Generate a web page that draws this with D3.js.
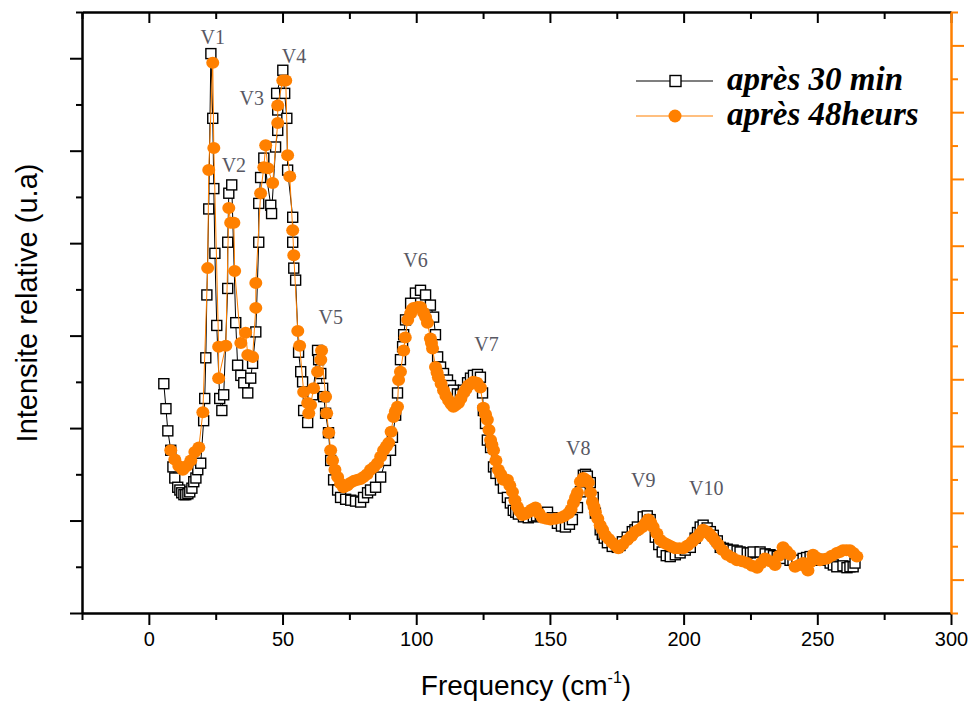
<!DOCTYPE html>
<html>
<head>
<meta charset="utf-8">
<script src="https://cdn.jsdelivr.net/npm/d3@7"></script>
<style>
  body { margin: 0; background: #fff; }
  svg { display: block; }
</style>
</head>
<body>
<div id="chart"></div>
<script>
// après 30 min : frequency (cm-1) and relative intensity
const freq30 = [5.6,6.4,7.1,8.2,9.0,9.7,10.8,11.6,12.3,13.1,
  13.8,14.6,15.3,16.1,16.8,17.6,18.3,19.4,20.5,20.9,
  21.3,21.7,22.4,23.2,23.9,24.3,24.7,25.4,26.5,27.3,
  28.0,29.5,29.5,29.9,31.0,32.5,33.2,34.4,35.5,37.0,
  38.1,38.8,40.0,41.1,41.1,41.8,43.0,45.6,45.9,47.4,
  48.2,48.2,47.8,50.1,50.8,51.6,51.9,53.8,53.8,54.2,
  54.9,56.0,56.8,57.5,57.9,59.4,61.3,63.1,63.5,64.3,
  65.0,65.4,66.1,67.2,68.0,69.1,70.6,71.7,73.6,75.5,
  77.3,79.2,80.3,81.8,82.9,84.8,86.7,88.5,90.4,91.1,
  92.3,93.0,94.1,94.9,95.3,96.0,97.9,99.7,101.6,103.5,
  105.3,106.5,107.2,108.0,109.1,110.2,111.7,112.8,113.9,115.4,
  116.5,117.7,119.2,120.3,121.4,122.9,124.0,124.8,125.1,125.9,
  126.6,127.8,128.9,129.8,131.5,132.6,134.1,135.2,136.3,137.2,138.2,
  140.1,141.9,143.8,145.0,146.4,147.8,149.1,150.9,152.8,154.3,
  155.8,157.3,158.4,160.3,161.4,162.5,163.3,164.0,165.1,166.2,
  167.0,168.8,169.6,170.3,171.5,173.3,175.2,176.2,177.1,178.9,
  180.8,181.8,182.7,184.9,186.4,187.5,189.4,190.7,192.0,193.5,
  195.0,196.9,198.7,200.6,202.5,204.3,205.2,206.2,207.3,208.8,
  210.0,211.1,212.6,213.7,214.9,216.3,218.5,220.0,221.1,223.8,
  225.0,226.0,228.6,230.5,232.3,233.6,235.0,237.2,239.8,240.9,
  242.4,244.7,246.0,247.3,249.9,251.0,252.1,254.8,256.0,257.3,
  259.6,261.1,262.2,263.4,264.1]
const int30 = [2.48,2.21,1.97,1.76,1.58,1.46,1.36,1.33,1.30,1.28,
  1.28,1.29,1.31,1.35,1.42,1.46,1.55,1.62,2.08,2.32,
  2.76,3.44,4.37,6.05,5.35,4.59,3.89,3.11,2.32,2.19,
  2.36,3.51,4.01,4.54,4.63,3.14,2.68,2.57,2.49,2.38,
  2.54,2.70,3.04,4.01,4.43,4.71,4.92,4.41,4.32,5.04,
  5.22,5.44,5.62,5.87,5.62,5.35,4.79,4.28,4.01,3.73,
  3.60,2.82,2.61,2.50,2.19,2.06,2.36,2.84,2.74,2.59,
  2.43,2.34,2.16,1.95,1.65,1.44,1.33,1.25,1.23,1.22,
  1.21,1.20,1.25,1.30,1.33,1.36,1.47,1.65,1.76,1.90,
  2.14,2.38,2.74,2.88,3.01,3.17,3.35,3.46,3.49,3.44,
  3.33,3.20,3.01,2.77,2.66,2.59,2.52,2.46,2.41,2.37,
  2.36,2.41,2.49,2.54,2.57,2.58,2.55,2.38,2.19,2.05,
  1.87,1.79,1.58,1.51,1.44,1.35,1.25,1.19,1.11,1.09,1.07,
  1.04,1.03,1.04,1.05,1.06,1.08,1.09,1.03,0.97,0.94,
  0.93,0.96,1.01,1.14,1.31,1.49,1.50,1.48,1.41,1.25,
  1.08,0.90,0.85,0.81,0.76,0.72,0.71,0.73,0.77,0.82,
  0.88,0.90,0.93,1.04,1.05,1.01,0.82,0.74,0.66,0.62,
  0.61,0.63,0.65,0.68,0.71,0.81,0.87,0.93,0.95,0.92,
  0.88,0.84,0.78,0.71,0.70,0.69,0.68,0.67,0.66,0.65,
  0.65,0.66,0.66,0.64,0.63,0.62,0.61,0.59,0.57,0.57,
  0.57,0.59,0.60,0.61,0.58,0.57,0.57,0.54,0.52,0.50,
  0.51,0.49,0.50,0.50,0.54]

// après 48heurs
const freq48 = [8.2,9.7,11.2,12.7,14.2,15.7,17.2,18.7,20.2,22.0,
  22.4,23.9,24.3,26.1,26.1,28.8,29.9,30.6,31.8,32.1,
  34.4,36.2,37.0,38.8,40.0,40.0,41.8,43.0,43.7,44.5,
  46.3,48.2,48.2,50.1,51.2,51.9,52.7,53.8,54.2,55.7,
  56.4,57.9,59.4,59.8,60.5,61.6,63.1,64.3,64.6,
  66.1,66.5,67.3,68.0,68.7,69.6,70.6,71.7,72.8,74.2,
  75.5,76.8,78.1,79.2,80.3,81.6,82.9,84.2,85.5,86.7,
  87.8,88.8,89.7,90.6,91.5,92.2,93.0,93.4,94.1,95.3,
  95.9,96.8,97.9,98.4,99.0,100.5,101.6,102.7,103.5,104.2,
  105.3,105.7,106.1,107.2,107.8,108.3,109.3,110.2,111.1,112.1,
  113.0,113.9,114.8,115.8,116.7,117.7,118.6,119.5,120.5,121.4,
  122.7,124.0,125.1,125.9,126.6,127.2,127.8,128.3,128.9,129.8,
  130.7,131.6,132.6,133.3,134.1,135.0,136.0,136.9,137.8,138.7,
  139.7,140.8,141.9,143.2,144.6,145.9,147.2,148.7,150.2,152.0,
  153.9,155.4,156.9,157.9,158.8,159.6,160.3,161.4,162.5,163.5,
  164.4,165.2,165.9,166.5,167.0,167.9,168.8,169.7,170.7,172.0,
  173.3,174.5,175.6,177.2,178.9,180.4,181.9,183.2,184.6,185.7,
  186.8,187.7,188.6,190.0,191.3,192.6,193.9,195.4,196.9,198.4,
  199.9,201.5,203.2,204.1,205.1,206.2,207.3,208.8,209.8,210.7,
  211.8,212.9,214.6,216.3,218.1,220.0,221.9,223.8,225.6,227.5,
  229.0,230.5,232.3,234.2,235.7,237.2,238.5,239.8,241.7,243.2,
  244.7,245.6,246.5,247.4,248.4,249.7,251.0,252.3,253.6,255.4,
  257.3,258.4,259.6,260.9,262.2,263.5,264.8]
const int48 = [1.76,1.66,1.59,1.55,1.59,1.65,1.74,1.79,2.17,3.73,
  4.79,5.95,5.03,2.88,2.54,2.89,4.38,4.22,4.22,3.70,
  2.92,3.03,2.79,2.77,3.30,3.57,4.54,4.82,5.06,4.81,
  4.65,5.30,5.49,5.76,5.76,4.95,4.72,4.14,3.87,3.05,
  2.89,2.39,2.27,2.16,2.25,2.43,2.61,2.74,2.84,
  2.34,2.16,1.95,1.76,1.65,1.55,1.47,1.40,1.36,1.38,
  1.41,1.43,1.44,1.45,1.47,1.50,1.55,1.58,1.62,1.69,
  1.76,1.80,1.84,1.96,2.12,2.18,2.23,2.52,2.61,2.84,
  2.98,3.17,3.24,3.28,3.30,3.31,3.31,3.25,3.20,3.14,
  2.97,2.92,2.86,2.66,2.60,2.55,2.48,2.41,2.35,2.30,
  2.26,2.23,2.25,2.27,2.32,2.38,2.42,2.46,2.48,2.50,
  2.49,2.44,2.22,2.15,2.09,1.98,1.87,1.82,1.76,1.65,
  1.55,1.50,1.44,1.44,1.44,1.38,1.31,1.22,1.15,1.10,
  1.06,1.07,1.09,1.12,1.14,1.08,1.03,1.02,1.01,1.02,
  1.03,1.05,1.08,1.12,1.19,1.25,1.30,1.42,1.46,1.44,
  1.41,1.30,1.20,1.15,1.09,1.02,0.95,0.90,0.84,0.80,
  0.76,0.73,0.70,0.74,0.79,0.83,0.88,0.90,0.93,0.97,
  1.01,0.98,0.93,0.86,0.79,0.76,0.74,0.72,0.70,0.70,
  0.70,0.73,0.77,0.80,0.82,0.86,0.90,0.88,0.85,0.82,
  0.78,0.74,0.68,0.63,0.60,0.57,0.56,0.54,0.51,0.49,
  0.54,0.59,0.56,0.52,0.62,0.71,0.67,0.63,0.50,0.52,
  0.54,0.50,0.46,0.55,0.63,0.60,0.57,0.58,0.59,0.62,
  0.65,0.66,0.68,0.68,0.68,0.65,0.61]

// peak labels
const peakNames = ['V1','V2','V3','V4','V5','V6','V7','V8','V9','V10']
const peakFreq = [23.9,31.8,38.5,54.3,68.0,99.7,126.3,160.6,184.9,208.5]
const peakInt = [6.23,4.85,5.57,6.02,3.20,3.82,2.91,1.78,1.44,1.35]

const xTicks = [0,50,100,150,200,250,300]
const xMinorTicks = [-25,25,75,125,175,225,275]
const seriesNames = ['après 30 min','après 48heurs']

const orange = '#ff8000'
const width = 974, height = 702

const svg = d3.select('#chart').append('svg')
  .attr('width', width)
  .attr('height', height)

const x = d3.scaleLinear().domain([-25, 300]).range([82, 951])
const y = d3.scaleLinear().domain([0, 6.5]).range([613, 12])
const y2 = d3.scaleLinear().domain([0, 18]).range([613, 12])

const sansFont = "'Liberation Sans', Arial, sans-serif"
const serifFont = "'Liberation Serif', 'Times New Roman', serif"

function styleAxis(g, color) {
  g.select('.domain').attr('stroke', color).attr('stroke-width', 2)
  g.selectAll('.tick line').attr('stroke', color).attr('stroke-width', 2)
}

// bottom axis
let gx = svg.append('g').attr('transform', 'translate(0,613)')
  .call(d3.axisBottom(x).tickValues(xTicks).tickSize(12).tickSizeOuter(0).tickPadding(7))
styleAxis(gx, '#000')
gx.selectAll('.tick text').attr('font-family', sansFont).attr('font-size', '20px').attr('fill', '#000')
let gxm = svg.append('g').attr('transform', 'translate(0,613)')
  .call(d3.axisBottom(x).tickValues(xMinorTicks).tickSize(7).tickSizeOuter(0).tickFormat(''))
styleAxis(gxm, '#000')

// top axis, ticks inward
let gt = svg.append('g').attr('transform', 'translate(0,12)')
  .call(d3.axisTop(x).tickValues(xTicks).tickSize(-11).tickSizeOuter(0).tickFormat(''))
styleAxis(gt, '#000')
let gtm = svg.append('g').attr('transform', 'translate(0,12)')
  .call(d3.axisTop(x).tickValues(xMinorTicks).tickSize(-7).tickSizeOuter(0).tickFormat(''))
styleAxis(gtm, '#000')

// left axis, no labels
let gy = svg.append('g').attr('transform', 'translate(82,0)')
  .call(d3.axisLeft(y).tickValues(d3.range(0, 7)).tickSize(12).tickSizeOuter(0).tickFormat(''))
styleAxis(gy, '#000')
let gym = svg.append('g').attr('transform', 'translate(82,0)')
  .call(d3.axisLeft(y).tickValues(d3.range(0.5, 7, 1)).tickSize(6).tickSizeOuter(0).tickFormat(''))
styleAxis(gym, '#000')

// right axis, orange
let gr = svg.append('g').attr('transform', 'translate(951,0)')
  .call(d3.axisRight(y2).tickValues(d3.range(1, 18, 2)).tickSize(13).tickSizeOuter(0).tickFormat(''))
styleAxis(gr, orange)
let grm = svg.append('g').attr('transform', 'translate(951,0)')
  .call(d3.axisRight(y2).tickValues(d3.range(0, 19, 2)).tickSize(7).tickSizeOuter(0).tickFormat(''))
styleAxis(grm, orange)

// series
let data30 = freq30.map((f, i) => ({f: f, v: int30[i]}))
let data48 = freq48.map((f, i) => ({f: f, v: int48[i]}))

let line = d3.line().x(d => x(d.f)).y(d => y(d.v))

svg.append('path').datum(data30)
  .attr('d', line).attr('fill', 'none').attr('stroke', '#000').attr('stroke-width', 1)
svg.append('g').selectAll('rect')
  .data(data30)
  .enter().append('rect')
    .attr('x', d => x(d.f) - 5)
    .attr('y', d => y(d.v) - 5)
    .attr('width', 10).attr('height', 10)
    .attr('fill', '#fff').attr('stroke', '#000').attr('stroke-width', 1.4)

svg.append('path').datum(data48)
  .attr('d', line).attr('fill', 'none').attr('stroke', orange).attr('stroke-width', 1)
svg.append('g').selectAll('ellipse')
  .data(data48)
  .enter().append('ellipse')
    .attr('cx', d => x(d.f))
    .attr('cy', d => y(d.v))
    .attr('rx', 6.5).attr('ry', 6)
    .attr('fill', orange)

// peak labels
svg.append('g').selectAll('text')
  .data(peakNames)
  .enter().append('text')
    .attr('x', (d, i) => x(peakFreq[i]))
    .attr('y', (d, i) => y(peakInt[i]))
    .attr('dy', '0.35em')
    .attr('text-anchor', 'middle')
    .attr('font-family', serifFont)
    .attr('font-size', '20px')
    .attr('fill', '#585863')
    .text(d => d)

// legend
let legend = svg.append('g').attr('transform', 'translate(636,81)')
let lg = legend.selectAll('g').data(seriesNames).enter().append('g')
  .attr('transform', (d, i) => `translate(0,${i * 35})`)
lg.append('line').attr('x1', 0).attr('x2', 77)
  .attr('stroke', (d, i) => i ? orange : '#000').attr('stroke-width', 1.2)
lg.filter((d, i) => i === 0).append('rect')
  .attr('x', 34).attr('y', -5.5).attr('width', 11).attr('height', 11)
  .attr('fill', '#fff').attr('stroke', '#000').attr('stroke-width', 1.4)
lg.filter((d, i) => i === 1).append('circle')
  .attr('cx', 39).attr('r', 6.5).attr('fill', orange)
lg.append('text')
  .attr('x', 91).attr('y', 9)
  .attr('font-family', serifFont)
  .attr('font-size', '33px')
  .attr('font-weight', 'bold')
  .attr('font-style', 'italic')
  .attr('fill', '#000')
  .text(d => d)

// axis titles
svg.append('text')
  .attr('transform', 'translate(37,303) rotate(-90)')
  .attr('text-anchor', 'middle')
  .attr('font-family', sansFont)
  .attr('font-size', '29px')
  .text('Intensite relative (u.a)')

let xt = svg.append('text')
  .attr('x', 526).attr('y', 695)
  .attr('text-anchor', 'middle')
  .attr('font-family', sansFont)
  .attr('font-size', '28px')
xt.append('tspan').text('Frequency (cm')
xt.append('tspan').attr('dy', -12).attr('font-size', '16px').text('-1')
xt.append('tspan').attr('dy', 12).text(')')
</script>
</body>
</html>
